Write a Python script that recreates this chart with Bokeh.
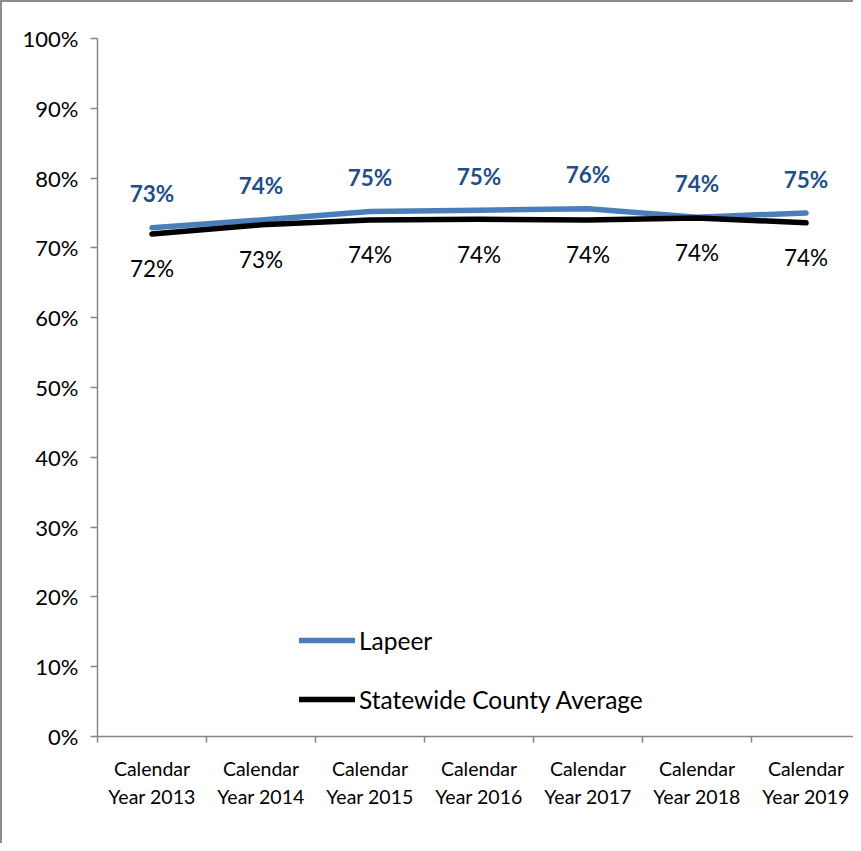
from bokeh.plotting import figure
from bokeh.models import (ColumnDataSource, FixedTicker, PrintfTickFormatter,
                          Legend, LegendItem, LabelSet, Range1d)
from bokeh.core.properties import value
from bokeh.embed import file_html
from bokeh.resources import INLINE

# ---- data ----
categories = ["Calendar\nYear 2013", "Calendar\nYear 2014", "Calendar\nYear 2015",
              "Calendar\nYear 2016", "Calendar\nYear 2017", "Calendar\nYear 2018",
              "Calendar\nYear 2019"]
lapeer = [72.9, 74.0, 75.2, 75.4, 75.6, 74.4, 75.0]
statewide = [72.0, 73.3, 74.0, 74.1, 74.0, 74.3, 73.6]
y_ticks = [0, 10, 20, 30, 40, 50, 60, 70, 80, 90, 100]

FONT = "Lato"
BLUE = "#4A7EBB"
LABEL_BLUE = "#224E88"
AXIS = "#868686"

W, H = 853, 843
LEFT, TOP, BOTTOM = 95, 36, 109
CAT_PX = 109
frame_w = W - LEFT

xs = list(range(len(categories)))
src = ColumnDataSource(dict(
    x=xs,
    lap=lapeer,
    st=statewide,
    lap_lbl=[f"{round(v)}%" for v in lapeer],
    st_lbl=[f"{round(v)}%" for v in statewide],
))

p = figure(width=W, height=H, output_backend="svg", toolbar_location=None,
           x_range=Range1d(-0.5, -0.5 + frame_w / CAT_PX), y_range=Range1d(0, 100),
           min_border_left=LEFT, min_border_top=TOP, min_border_bottom=BOTTOM,
           min_border_right=0)
p.styles = {"border-left": "2px solid #8c8c8c", "border-top": "2px solid #8c8c8c"}
p.outline_line_color = None
p.xgrid.visible = False
p.ygrid.visible = False
p.background_fill_color = "white"
p.border_fill_color = "white"

# x axis
p.xaxis.ticker = FixedTicker(ticks=xs, minor_ticks=[i - 0.5 for i in range(len(categories) + 1)])
p.xaxis.major_label_overrides = {i: c for i, c in enumerate(categories)}
p.xaxis.major_tick_in = 0
p.xaxis.major_tick_out = 0
p.xaxis.minor_tick_in = 0
p.xaxis.minor_tick_out = 6
p.xaxis.minor_tick_line_color = AXIS
p.xaxis.minor_tick_line_width = 1.5
p.xaxis.axis_line_color = AXIS
p.xaxis.axis_line_width = 1.5
p.xaxis.major_label_text_font = FONT
p.xaxis.major_label_text_font_size = "19.5px"
p.xaxis.major_label_text_color = "black"
p.xaxis.major_label_standoff = 14
p.xaxis.major_label_text_line_height = 1.25

# y axis
p.yaxis.ticker = FixedTicker(ticks=y_ticks, minor_ticks=[])
p.yaxis.formatter = PrintfTickFormatter(format="%d%%")
p.yaxis.major_tick_in = 0
p.yaxis.major_tick_out = 7
p.yaxis.major_tick_line_color = AXIS
p.yaxis.major_tick_line_width = 1.5
p.yaxis.axis_line_color = AXIS
p.yaxis.axis_line_width = 1.5
p.yaxis.major_label_text_font = FONT
p.yaxis.major_label_text_font_size = "22px"
p.yaxis.major_label_text_color = "black"
p.yaxis.major_label_standoff = 12

# lines
r_lap = p.line("x", "lap", source=src, line_color=BLUE, line_width=5.5, line_cap="round", line_join="round")
r_st = p.line("x", "st", source=src, line_color="black", line_width=5.5, line_cap="round", line_join="round")

# data labels
p.add_layout(LabelSet(x="x", y="lap", text="lap_lbl", source=src, y_offset=34,
                      text_align="center", text_baseline="middle",
                      text_font=value(FONT), text_font_size=value("22.5px"),
                      text_font_style="bold", text_color=LABEL_BLUE))
p.add_layout(LabelSet(x="x", y="st", text="st_lbl", source=src, y_offset=-35,
                      text_align="center", text_baseline="middle",
                      text_font=value(FONT), text_font_size=value("22.5px"),
                      text_color="black"))

legend = Legend(items=[LegendItem(label="Lapeer", renderers=[r_lap]),
                       LegendItem(label="Statewide County Average", renderers=[r_st])],
                location=(202, 22), orientation="vertical",
                glyph_width=56, glyph_height=30, label_height=30, spacing=29,
                label_standoff=4, padding=0, margin=0,
                border_line_color=None, background_fill_alpha=0,
                label_text_font=FONT, label_text_font_size="24.5px", label_text_color="black")
p.add_layout(legend, "center")

open("out.html", "w").write(file_html(p, INLINE))
